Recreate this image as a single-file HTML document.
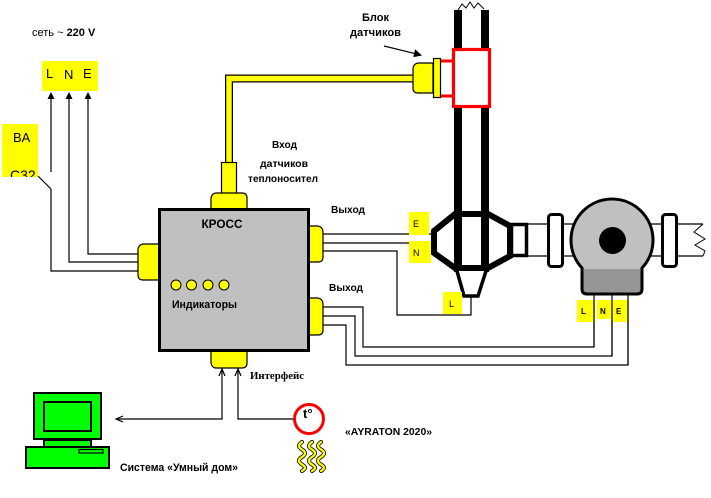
<!DOCTYPE html>
<html><head><meta charset="utf-8"><style>
html,body{margin:0;padding:0;background:#fff;}
svg{display:block;}
text{font-family:"Liberation Sans",sans-serif;}
.b{font-weight:bold;}
</style></head><body>
<svg width="711" height="498" viewBox="0 0 711 498" xmlns="http://www.w3.org/2000/svg">
<rect width="711" height="498" fill="#fff"/>

<!-- mains label -->
<text x="32" y="36" font-size="11">сеть ~ <tspan class="b" font-weight="bold">220 V</tspan></text>
<rect x="42" y="61" width="56" height="30" fill="#ffff00"/>
<text x="46" y="78" font-size="13">L</text>
<text x="64" y="79" font-size="13">N</text>
<text x="83" y="78" font-size="13">E</text>

<!-- BA box -->
<rect x="2" y="124" width="36" height="53" fill="#ffff00"/>
<text x="13" y="142" font-size="13">BA</text>
<svg x="2" y="124" width="36" height="53"><text x="8" y="56" font-size="14">C32</text></svg>

<!-- mains wires -->
<g stroke="#000" stroke-width="1.2" fill="none">
<polyline points="51,99 51,172"/>
<line x1="38" y1="176" x2="51" y2="189"/>
<polyline points="51,189 51,271 139,271"/>
<polyline points="69,99 69,262 139,262"/>
<polyline points="88,99 88,254 139,254"/>
</g>
<polygon points="51,92 47.5,99 54.5,99" fill="#000"/>
<polygon points="69,92 65.5,99 72.5,99" fill="#000"/>
<polygon points="88,92 84.5,99 91.5,99" fill="#000"/>

<!-- sensor cable -->
<polyline points="229,162 229,78.5 414,78.5" fill="none" stroke="#000" stroke-width="8" stroke-linejoin="miter"/>
<polyline points="229,162 229,78.5 414,78.5" fill="none" stroke="#ffff00" stroke-width="5.5" stroke-linejoin="miter"/>
<rect x="221.5" y="162.5" width="15" height="31" fill="#ffff00" stroke="#000" stroke-width="1.2"/>

<!-- sensor block -->
<path d="M433,63 L418,63 Q413,64 413,69 L413,88 Q413,93 418,93 L433,93 Z" fill="#ffff00" stroke="#000" stroke-width="1.2"/>
<rect x="433.5" y="58.5" width="7" height="39" fill="#ffff00" stroke="#000" stroke-width="1.2"/>
<line x1="441" y1="61" x2="453" y2="61" stroke="#ff0000" stroke-width="3"/>
<line x1="441" y1="96" x2="453" y2="96" stroke="#ff0000" stroke-width="3"/>

<text x="362" y="21" font-size="11" class="b" textLength="27" lengthAdjust="spacingAndGlyphs">Блок</text>
<text x="350" y="36" font-size="11" class="b" textLength="51" lengthAdjust="spacingAndGlyphs">датчиков</text>
<line x1="384" y1="46" x2="416" y2="53.8" stroke="#000" stroke-width="1.2"/>
<polygon points="422,55.5 415.1,49.3 413.3,57.1" fill="#000"/>

<text x="272" y="148" font-size="10" class="b" textLength="25" lengthAdjust="spacingAndGlyphs">Вход</text>
<text x="260" y="167" font-size="10" class="b" textLength="48" lengthAdjust="spacingAndGlyphs">датчиков</text>
<text x="248" y="182" font-size="10" class="b" textLength="70" lengthAdjust="spacingAndGlyphs">теплоносител</text>

<!-- pipe -->
<polyline points="458,10 462,4 466,8 470,2 474,8 478,3 484,9" fill="none" stroke="#000" stroke-width="1"/>
<rect x="454" y="10" width="8" height="262" fill="#000"/>
<rect x="481" y="10" width="8" height="262" fill="#000"/>
<rect x="453.5" y="49.5" width="36" height="57" fill="#fff" stroke="#ff0000" stroke-width="3.2"/>

<!-- right pipe lines -->
<line x1="526" y1="224" x2="703" y2="224" stroke="#000" stroke-width="1.3"/>
<line x1="526" y1="256" x2="703" y2="256" stroke="#000" stroke-width="1.3"/>
<polyline points="703,224 694,232 705,239 695,245 705,251 703,256" fill="none" stroke="#000" stroke-width="1"/>

<!-- fitting -->
<polygon points="434,231 455,214 488,214 510,226 510,256 488,268 455,268 434,253" fill="#fff" stroke="#000" stroke-width="6" stroke-linejoin="miter"/>
<rect x="454" y="214" width="8" height="58" fill="#000"/>
<rect x="481" y="214" width="8" height="58" fill="#000"/>
<rect x="511.5" y="224.5" width="15" height="31" fill="#fff" stroke="#000" stroke-width="3.5"/>
<path d="M457,271 L464,296 L478,296 L486,271" fill="#fff" stroke="#000" stroke-width="3.5"/>

<!-- flanges -->
<rect x="548.5" y="214.5" width="14" height="52" rx="3" fill="#fff" stroke="#000" stroke-width="3"/>
<rect x="662.5" y="214.5" width="14" height="52" rx="3" fill="#fff" stroke="#000" stroke-width="3"/>

<!-- pump -->
<path d="M582,268 A41,41 0 1 1 642,268 L642,289 Q642,294 637,294 L587,294 Q582,294 582,289 Z" fill="#c0c0c0"/>
<path d="M582,269 L642,269 L642,289 Q642,294 637,294 L587,294 Q582,294 582,289 Z" fill="#969696"/>
<path d="M582,268 A41,41 0 1 1 642,268 L642,289 Q642,294 637,294 L587,294 Q582,294 582,289 Z" fill="none" stroke="#000" stroke-width="3"/>
<circle cx="612.5" cy="240.5" r="13.5" fill="#000"/>

<!-- wires from upper output -->
<g stroke="#000" stroke-width="1.2" fill="none">
<line x1="323" y1="234" x2="433" y2="234"/>
<line x1="323" y1="243" x2="433" y2="243"/>
<polyline points="323,251 397,251 397,315 471,315 471,297"/>
<polyline points="323,307 363,307 363,347 594,347 594,294"/>
<polyline points="323,316 355,316 355,356 612,356 612,294"/>
<polyline points="323,325 346,325 346,365 628,365 628,294"/>
</g>

<!-- E N L boxes by fitting -->
<rect x="409" y="212" width="20" height="23" fill="#ffff00"/>
<text x="413" y="227" font-size="9">E</text>
<rect x="409" y="241" width="22" height="22" fill="#ffff00"/>
<text x="413" y="256" font-size="9">N</text>
<rect x="443" y="292" width="19" height="22" fill="#ffff00"/>
<text x="449" y="307" font-size="9">L</text>

<!-- pump LNE -->
<rect x="577" y="300" width="18" height="22" fill="#ffff00"/>
<rect x="597" y="300" width="15" height="19" fill="#ffff00"/>
<rect x="612" y="300" width="16" height="22" fill="#ffff00"/>
<line x1="594" y1="300" x2="594" y2="347" stroke="#000" stroke-width="1.2"/>
<line x1="612" y1="300" x2="612" y2="356" stroke="#000" stroke-width="1.2"/>
<line x1="628" y1="300" x2="628" y2="365" stroke="#000" stroke-width="1.2"/>
<text x="581" y="314" font-size="8" class="b">L</text>
<text x="600" y="314" font-size="8" class="b">N</text>
<text x="616" y="314" font-size="8" class="b">E</text>

<!-- KROSS connectors -->
<g fill="#ffff00" stroke="#000" stroke-width="1.2">
<path d="M159,244 L143,244 Q138,245 138,250 L138,275 Q138,280 143,280 L159,280 Z"/>
<path d="M309,226 L318,226 Q323,227 323,232 L323,257 Q323,262 318,262 L309,262 Z"/>
<path d="M309,298 L318,298 Q323,299 323,304 L323,330 Q323,335 318,335 L309,335 Z"/>
<path d="M211,209 L211,198 Q212,193 216,193 L242,193 Q247,193 247,198 L247,209 Z"/>
<path d="M211,351 L211,363 Q212,368 216,368 L242,368 Q247,368 247,363 L247,351 Z"/>
</g>

<!-- KROSS box -->
<rect x="159.5" y="209.5" width="149" height="141" fill="#c0c0c0" stroke="#000" stroke-width="3"/>
<text x="222" y="228" font-size="12" class="b" text-anchor="middle" textLength="41" lengthAdjust="spacingAndGlyphs">КРОСС</text>
<g fill="#ffff00" stroke="#000" stroke-width="1">
<circle cx="176" cy="285" r="5"/>
<circle cx="191.5" cy="285" r="5"/>
<circle cx="208" cy="285" r="5"/>
<circle cx="224" cy="285" r="5"/>
</g>
<text x="172" y="308" font-size="11" class="b" textLength="65" lengthAdjust="spacingAndGlyphs">Индикаторы</text>

<text x="331" y="213" font-size="10.5" class="b" textLength="34" lengthAdjust="spacingAndGlyphs">Выход</text>
<text x="329" y="291" font-size="10.5" class="b" textLength="34" lengthAdjust="spacingAndGlyphs">Выход</text>

<!-- interface -->
<text x="250" y="379" font-size="11" font-weight="bold" style="font-family:'Liberation Serif',serif" textLength="54" lengthAdjust="spacingAndGlyphs">Интерфейс</text>
<g stroke="#000" stroke-width="1.2" fill="none">
<polyline points="222,370 222,419 117,419"/>
<polyline points="294,419 238,419 238,370"/>
<polyline points="219,376 222,369 225,376"/>
<polyline points="235,376 238,369 241,376"/>
<polyline points="123,416 116,419 123,422"/>
</g>

<!-- thermostat -->
<circle cx="309" cy="419" r="14.5" fill="#fff" stroke="#ff0000" stroke-width="3"/>
<text x="303" y="418" font-size="13" class="b">t°</text>
<g fill="none" stroke-linecap="round">
<path d="M302,442 c-4,3 -4,5 0,7.5 s4,5 0,7.5 s-4,5 0,7.5 s4,4 0,6.5" stroke="#000" stroke-width="4"/>
<path d="M312,442 c-4,3 -4,5 0,7.5 s4,5 0,7.5 s-4,5 0,7.5 s4,4 0,6.5" stroke="#000" stroke-width="4"/>
<path d="M321,442 c-4,3 -4,5 0,7.5 s4,5 0,7.5 s-4,5 0,7.5 s4,4 0,6.5" stroke="#000" stroke-width="4"/>
<path d="M302,442 c-4,3 -4,5 0,7.5 s4,5 0,7.5 s-4,5 0,7.5 s4,4 0,6.5" stroke="#ffff00" stroke-width="2.4"/>
<path d="M312,442 c-4,3 -4,5 0,7.5 s4,5 0,7.5 s-4,5 0,7.5 s4,4 0,6.5" stroke="#ffff00" stroke-width="2.4"/>
<path d="M321,442 c-4,3 -4,5 0,7.5 s4,5 0,7.5 s-4,5 0,7.5 s4,4 0,6.5" stroke="#ffff00" stroke-width="2.4"/>
</g>
<text x="345" y="435" font-size="10" class="b" textLength="87" lengthAdjust="spacingAndGlyphs">«AYRATON 2020»</text>

<!-- computer -->
<g fill="#00ff00" stroke="#000" stroke-width="2">
<rect x="34" y="393" width="67" height="46"/>
<rect x="44" y="402" width="47" height="29"/>
<rect x="44" y="440" width="47" height="7"/>
<rect x="26" y="447" width="83" height="21"/>
<rect x="79" y="449.5" width="24" height="3.5" stroke-width="1.2"/>
</g>
<text x="120" y="471" font-size="11" class="b" textLength="118" lengthAdjust="spacingAndGlyphs">Система «Умный дом»</text>
</svg>
</body></html>
